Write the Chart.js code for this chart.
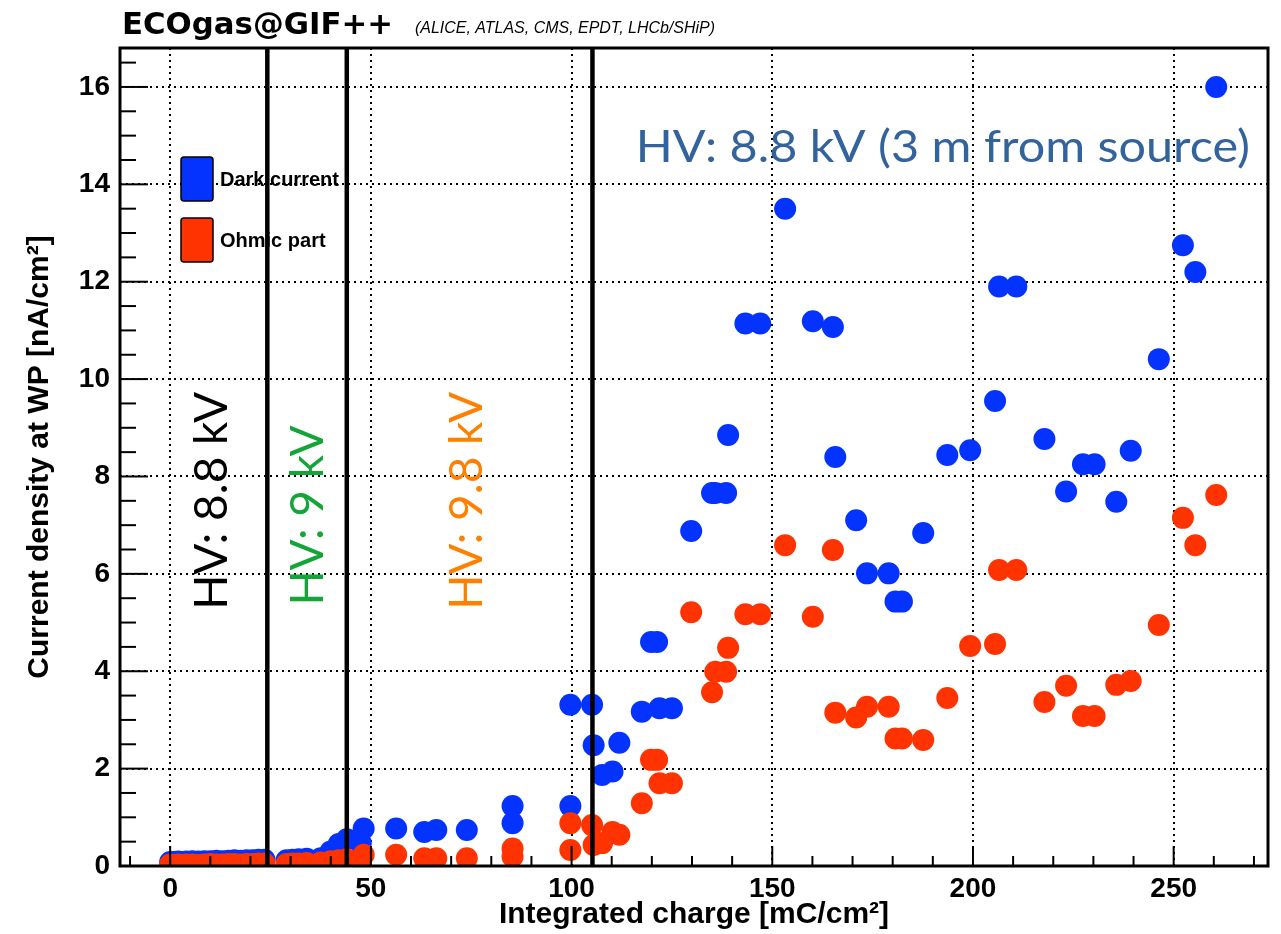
<!DOCTYPE html>
<html>
<head>
<meta charset="utf-8">
<script src="https://cdn.jsdelivr.net/npm/chart.js@4.4.1/dist/chart.umd.min.js"></script>
<style>
  body { margin: 0; background: #fff; }
  #wrap { width: 1281px; height: 934px; }
</style>
</head>
<body>
<div id="wrap"><canvas id="chart" width="1281" height="934"></canvas></div>
<script>
// Integrated charge of each measurement [mC/cm2]
const charge = [0, 1, 2, 3, 4, 5.5, 7, 8.5, 10, 11.5, 13, 14.5, 16, 17.5, 19, 20.5, 22, 23.5,
  29, 30.5, 32, 34, 37.5, 40, 42, 44, 47.5, 48.2,
  56.3, 63.3, 66.3, 73.9, 85.3, 85.3, 99.7, 99.7,
  105.1, 105.5, 107.6, 110.2, 111.9,
  117.5, 119.8, 121.3, 121.9, 125.0,
  129.8, 135.0, 135.8, 138.5, 139.0,
  143.3, 147.0, 153.2, 160.1, 165.1, 165.7, 170.9, 173.6, 179.0, 180.7, 182.3, 187.6, 193.6,
  199.3, 205.5, 206.5, 210.8, 217.8, 223.2, 227.4, 230.3, 235.7, 239.3, 246.3, 252.3, 255.4, 260.6];

// Current density at WP [nA/cm2]
const darkCurrent = [0.08, 0.08, 0.09, 0.08, 0.09, 0.10, 0.09, 0.10, 0.10, 0.11, 0.10, 0.11, 0.12, 0.11, 0.12, 0.12, 0.13, 0.13,
  0.12, 0.13, 0.14, 0.15, 0.16, 0.30, 0.45, 0.55, 0.47, 0.77,
  0.77, 0.70, 0.74, 0.74, 1.23, 0.88, 1.23, 3.31,
  3.31, 2.48, 1.87, 1.94, 2.53,
  3.17, 4.60, 4.60, 3.24, 3.24,
  6.88, 7.66, 7.66, 7.66, 8.85,
  11.14, 11.14, 13.5, 11.19, 11.07, 8.40, 7.10, 6.01, 6.01, 5.43, 5.43, 6.84, 8.44,
  8.54, 9.55, 11.9, 11.9, 8.77, 7.69, 8.25, 8.25, 7.48, 8.53, 10.41, 12.75, 12.2, 16.0];

const ohmicPart = [0.03, 0.02, 0.03, 0.02, 0.03, 0.03, 0.02, 0.03, 0.04, 0.03, 0.03, 0.04, 0.04, 0.03, 0.04, 0.04, 0.05, 0.05,
  0.04, 0.05, 0.05, 0.06, 0.07, 0.10, 0.12, 0.14, 0.15, 0.23,
  0.23, 0.16, 0.16, 0.16, 0.36, 0.19, 0.33, 0.88,
  0.84, 0.43, 0.47, 0.70, 0.64,
  1.29, 2.18, 2.18, 1.70, 1.70,
  5.21, 3.57, 3.99, 3.99, 4.48,
  5.17, 5.17, 6.59, 5.12, 6.49, 3.15, 3.05, 3.27, 3.27, 2.62, 2.62, 2.59, 3.45,
  4.52, 4.56, 6.08, 6.08, 3.37, 3.70, 3.08, 3.08, 3.72, 3.80, 4.95, 7.15, 6.59, 7.62];

// charge where the HV working point was changed
const hvChanges = [24.2, 44.0, 105.2];
const hvPeriods = ['HV: 8.8 kV', 'HV: 9 kV', 'HV: 9.8 kV'];
const hvColors = ['#000000', '#13a538', '#ff8000'];

const BLUE = '#0433ff';
const RED = '#ff3300';

// draw text squeezed/stretched to a given width
function fitText(ctx, txt, x, y, width) {
    const w = ctx.measureText(txt).width;
    ctx.save();
    ctx.translate(x, y);
    ctx.scale(width / w, 1);
    ctx.fillText(txt, 0, 0);
    ctx.restore();
}

// labels / lines / frame / inner ticks
const overlay = {
    id: 'overlay',
    beforeDatasetsDraw(chart) {
        const { ctx, scales: { x, y } } = chart;
        // rotated HV labels (placed in data coordinates)
        const spots = [[10.5, 7.5], [34.5, 7.2], [74, 7.5]];
        hvPeriods.forEach((txt, i) => {
            ctx.save();
            ctx.translate(x.getPixelForValue(spots[i][0]), y.getPixelForValue(spots[i][1]));
            ctx.rotate(-Math.PI / 2);
            ctx.font = '46px Lato';
            ctx.fillStyle = hvColors[i];
            ctx.textAlign = 'center';
            ctx.textBaseline = 'middle';
            ctx.fillText(txt, 0, 0);
            ctx.restore();
        });

        // big annotation, spans 116 -> 269 in charge units
        ctx.save();
        ctx.font = '44px Lato';
        ctx.fillStyle = '#33639c';
        ctx.textAlign = 'left';
        ctx.textBaseline = 'middle';
        const x0 = x.getPixelForValue(116);
        fitText(ctx, 'HV: 8.8 kV (3 m from source)', x0, y.getPixelForValue(14.75), x.getPixelForValue(269) - x0);
        ctx.restore();

        // legend
        const items = [['Dark current', BLUE, 157], ['Ohmic part', RED, 218]];
        ctx.save();
        items.forEach(([label, col, top]) => {
            ctx.beginPath();
            ctx.roundRect(181, top, 32, 44, 3);
            ctx.fillStyle = col;
            ctx.fill();
            ctx.lineWidth = 1.5;
            ctx.strokeStyle = '#000';
            ctx.stroke();
            ctx.font = 'bold 20px "Liberation Sans", Arial, sans-serif';
            ctx.fillStyle = '#000';
            ctx.textBaseline = 'middle';
            ctx.fillText(label, 220, top + 23);
        });
        ctx.restore();
    },
    afterDatasetsDraw(chart) {
        const { ctx, chartArea: a, scales: { x, y } } = chart;
        ctx.save();
        // HV change lines
        ctx.strokeStyle = '#000';
        ctx.lineWidth = 4.5;
        hvChanges.forEach(v => {
            const px = x.getPixelForValue(v);
            ctx.beginPath();
            ctx.moveTo(px, a.top);
            ctx.lineTo(px, a.bottom);
            ctx.stroke();
        });

        // ticks inside the frame
        ctx.lineWidth = 2;
        for (let v = -10; v <= 270; v += 10) {
            const px = x.getPixelForValue(v);
            const len = v % 50 === 0 ? 20 : 10;
            ctx.beginPath();
            ctx.moveTo(px, a.bottom);
            ctx.lineTo(px, a.bottom - len);
            ctx.stroke();
        }
        for (let v = 0; v <= 16.5; v += 0.5) {
            const py = y.getPixelForValue(v);
            const len = v % 2 === 0 ? 28 : 16;
            ctx.beginPath();
            ctx.moveTo(a.left, py);
            ctx.lineTo(a.left + len, py);
            ctx.stroke();
        }

        // frame
        ctx.lineWidth = 3;
        ctx.strokeRect(a.left, a.top, a.right - a.left, a.bottom - a.top);
        ctx.restore();
    },
    afterDraw(chart) {
        const { ctx } = chart;
        ctx.save();
        ctx.fillStyle = '#000';
        ctx.textBaseline = 'alphabetic';
        ctx.font = 'bold 30px "DejaVu Sans"';
        fitText(ctx, 'ECOgas@GIF++', 122, 34, 271);
        ctx.font = 'italic 16px "Liberation Sans", Arial, sans-serif';
        fitText(ctx, '(ALICE, ATLAS, CMS, EPDT, LHCb/SHiP)', 415, 33, 300);
        ctx.restore();
    }
};

const tickFont = { family: '"Liberation Sans", Arial, sans-serif', size: 28, weight: 'bold' };
const titleFont = { family: '"Liberation Sans", Arial, sans-serif', size: 30, weight: 'bold' };

new Chart(document.getElementById('chart'), {
    type: 'scatter',
    data: {
        datasets: [
            {
                label: 'Ohmic part',
                data: charge.map((c, i) => ({ x: c, y: ohmicPart[i] })),
                backgroundColor: RED,
                borderWidth: 0,
                pointRadius: 11,
                pointHoverRadius: 11,
                order: 1
            },
            {
                label: 'Dark current',
                data: charge.map((c, i) => ({ x: c, y: darkCurrent[i] })),
                backgroundColor: BLUE,
                borderWidth: 0,
                pointRadius: 11,
                pointHoverRadius: 11,
                order: 2
            }
        ]
    },
    options: {
        responsive: false,
        animation: false,
        layout: { padding: { top: 48, right: 13, left: 0, bottom: 0 } },
        plugins: {
            legend: { display: false },
            tooltip: { enabled: false }
        },
        scales: {
            x: {
                type: 'linear',
                min: -12.5,
                max: 273.5,
                afterFit: s => { s.height = 68; },
                ticks: {
                    stepSize: 50,
                    includeBounds: false,
                    color: '#000',
                    font: tickFont,
                    padding: 6,
                    maxRotation: 0
                },
                grid: { color: '#000', lineWidth: 2, drawTicks: false },
                border: { display: false, dash: [2, 4] },
                title: {
                    display: true,
                    text: 'Integrated charge [mC/cm²]',
                    color: '#000',
                    font: titleFont,
                    padding: { bottom: 1, top: 0 }
                }
            },
            y: {
                type: 'linear',
                min: 0,
                max: 16.8,
                afterFit: s => { s.width = 120; },
                ticks: {
                    stepSize: 2,
                    includeBounds: false,
                    color: '#000',
                    font: tickFont,
                    padding: 10
                },
                grid: { color: '#000', lineWidth: 2, drawTicks: false },
                border: { display: false, dash: [2, 4] },
                title: {
                    display: true,
                    text: 'Current density at WP [nA/cm²]',
                    color: '#000',
                    font: titleFont,
                    padding: { top: 22, bottom: 0 }
                }
            }
        }
    },
    plugins: [overlay]
});
</script>
</body>
</html>
